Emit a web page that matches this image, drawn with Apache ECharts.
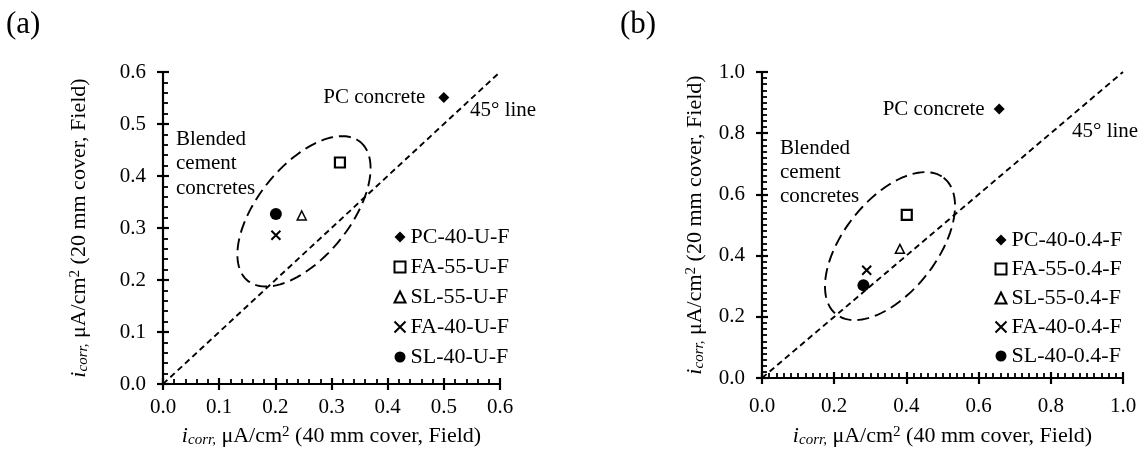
<!DOCTYPE html>
<html><head><meta charset="utf-8">
<script src="https://cdn.jsdelivr.net/npm/echarts@6/dist/echarts.min.js"></script>
<style>html,body{margin:0;padding:0;background:#fff}#c{width:1143px;height:453px}</style>
</head><body><div id="c"></div>
<script>
// ---- data ----
const namesA = ['PC-40-U-F','FA-55-U-F','SL-55-U-F','FA-40-U-F','SL-40-U-F'];
const xA = [0.50, 0.315, 0.247, 0.201, 0.201];
const yA = [0.551, 0.426, 0.324, 0.286, 0.327];
const namesB = ['PC-40-0.4-F','FA-55-0.4-F','SL-55-0.4-F','FA-40-0.4-F','SL-40-0.4-F'];
const xB = [0.657, 0.401, 0.382, 0.290, 0.281];
const yB = [0.879, 0.533, 0.422, 0.352, 0.303];
const ticksA = [0, 0.1, 0.2, 0.3, 0.4, 0.5, 0.6];
const ticksB = [0, 0.2, 0.4, 0.6, 0.8, 1.0];
const lineA = [[0, 0], [0.6, 0.6]];
const lineB = [[0, 0], [1.0, 1.0]];
// ellipse: centre x, centre y, semi-axis vector 1 (dx,dy), semi-axis vector 2 (dx,dy), in data units
const ellipseA = [0.251, 0.332, 0.0993, 0.1342, 0.0648, -0.054];
const ellipseB = [0.3546, 0.431, 0.1487, 0.2231, 0.1017, -0.0932];

const FONT = 'Liberation Serif';
const symbols = ['diamond', 'rect', 'triangle', 'path://M0,0L10,10M10,0L0,10', 'circle'];
const symStyles = [
  {size: 11, style: {color: '#000', opacity: 1}},
  {size: 10, style: {color: '#fff', borderColor: '#000', borderWidth: 2.2, opacity: 1}},
  {size: 9, style: {color: '#fff', borderColor: '#000', borderWidth: 1.5, opacity: 1}},
  {size: 9, style: {color: 'none', borderColor: '#000', borderWidth: 2, opacity: 1}},
  {size: 12, style: {color: '#000', opacity: 1}}
];

const titleRich = {
  it: {fontFamily: FONT, fontSize: 22, fontStyle: 'italic', color: '#000'},
  sub: {fontFamily: FONT, fontSize: 15, fontStyle: 'italic', color: '#000', padding: [9, 0, 0, 0]},
  n: {fontFamily: FONT, fontSize: 22, color: '#000'},
  sup: {fontFamily: FONT, fontSize: 15, color: '#000', padding: [0, 0, 8, 0]}
};
function axisName(cover) { return '{it|i}{sub|corr,}{n| μA/cm}{sup|2}{n| (' + cover + ' mm cover, Field)}'; }

function mainAxis(grid, max, interval, split, isX, labelMargin, nameGap, cover) {
  return {
    type: 'value', gridIndex: grid, min: 0, max: max, interval: interval,
    position: isX ? 'bottom' : 'left',
    axisLine: {show: true, lineStyle: {color: '#000', width: 2.2}},
    axisTick: {show: true, inside: true, length: 6, lineStyle: {color: '#000', width: 2.2}},
    minorTick: {show: true, splitNumber: split, length: 5, lineStyle: {color: '#000', width: 1.8}},
    splitLine: {show: false},
    axisLabel: {show: true, margin: labelMargin, fontFamily: FONT, fontSize: 21, color: '#000',
      formatter: v => v.toFixed(1)},
    name: axisName(cover), nameLocation: 'middle', nameGap: nameGap,
    nameTextStyle: {rich: titleRich}
  };
}
function overlayAxis(grid, max, interval, isX) {
  return {
    type: 'value', gridIndex: grid, min: 0, max: max, interval: interval,
    position: isX ? 'bottom' : 'left',
    axisLine: {show: false}, splitLine: {show: false}, axisLabel: {show: false},
    axisTick: {show: true, inside: false, length: 6, lineStyle: {color: '#000', width: 2.2}}
  };
}

function ellipseSeries(xi, yi, data) {
  return {
    type: 'custom', xAxisIndex: xi, yAxisIndex: yi, data: [data], silent: true, z: 1,
    encode: {x: 0, y: 1},
    renderItem: function (params, api) {
      const cx = api.value(0), cy = api.value(1), ax = api.value(2), ay = api.value(3), bx = api.value(4), by = api.value(5);
      const pts = [];
      for (let k = 0; k <= 120; k++) {
        const t = k / 120 * Math.PI * 2;
        pts.push(api.coord([cx + ax * Math.cos(t) + bx * Math.sin(t), cy + ay * Math.cos(t) + by * Math.sin(t)]));
      }
      return {type: 'polyline', shape: {points: pts}, style: {fill: 'none', stroke: '#000', lineWidth: 1.9, lineDash: [12, 6]}};
    }
  };
}

function scatterSeries(names, xs, ys, xi, yi, labelDist) {
  return names.map((nm, i) => ({
    type: 'scatter', name: nm, xAxisIndex: xi, yAxisIndex: yi, z: 5,
    symbol: symbols[i], symbolSize: symStyles[i].size, itemStyle: symStyles[i].style,
    data: [[xs[i], ys[i]]],
    label: i === 0 ? {show: true, position: 'left', distance: labelDist, formatter: 'PC concrete',
      fontFamily: FONT, fontSize: 21, color: '#000'} : {show: false}
  }));
}

function lineSeries(data, xi, yi) {
  return {type: 'line', data: data, xAxisIndex: xi, yAxisIndex: yi, symbol: 'none', silent: true, z: 2,
    lineStyle: {color: '#000', width: 1.9, type: [6, 4]}};
}

const legendText = {fontFamily: FONT, fontSize: 22, color: '#000'};
const chart = echarts.init(document.getElementById('c'));
chart.setOption({
  animation: false,
  backgroundColor: '#fff',
  grid: [
    {left: 163, top: 72, width: 337, height: 318},
    {left: 762, top: 72, width: 361, height: 308}
  ],
  xAxis: [
    mainAxis(0, 0.6, 0.1, 5, true, 13, 40, 40),
    mainAxis(1, 1.0, 0.2, 10, true, 18, 46, 40),
    overlayAxis(0, 0.6, 0.1, true),
    overlayAxis(1, 1.0, 0.2, true)
  ],
  yAxis: [
    mainAxis(0, 0.6, 0.1, 5, false, 17, 72, 20),
    mainAxis(1, 1.0, 0.2, 10, false, 17, 55, 20),
    overlayAxis(0, 0.6, 0.1, false),
    overlayAxis(1, 1.0, 0.2, false)
  ],
  legend: [
    {data: namesA, orient: 'vertical', left: 392, top: 226, itemGap: 8, itemWidth: 11, itemHeight: 11,
      textStyle: legendText, padding: 0, selectedMode: false},
    {data: namesB, orient: 'vertical', left: 993, top: 229, itemGap: 7, itemWidth: 11, itemHeight: 11,
      textStyle: legendText, padding: 0, selectedMode: false}
  ],
  graphic: [
    {type: 'text', left: 6, top: 9, style: {text: '(a)', font: '31px "Liberation Serif"', fill: '#000'}},
    {type: 'text', left: 620, top: 9, style: {text: '(b)', font: '31px "Liberation Serif"', fill: '#000'}},
    {type: 'text', left: 470, top: 100, style: {text: '45° line', font: '21px "Liberation Serif"', fill: '#000'}},
    {type: 'text', left: 1072, top: 121, style: {text: '45° line', font: '21px "Liberation Serif"', fill: '#000'}},
    {type: 'text', left: 176, top: 127, style: {text: 'Blended\ncement\nconcretes', font: '21px "Liberation Serif"', lineHeight: 24.5, fill: '#000'}},
    {type: 'text', left: 780, top: 136, style: {text: 'Blended\ncement\nconcretes', font: '21px "Liberation Serif"', lineHeight: 24.2, fill: '#000'}}
  ],
  series: [
    lineSeries(lineA, 0, 0),
    lineSeries(lineB, 1, 1),
    ellipseSeries(0, 0, ellipseA),
    ellipseSeries(1, 1, ellipseB)
  ].concat(scatterSeries(namesA, xA, yA, 0, 0, 13), scatterSeries(namesB, xB, yB, 1, 1, 9))
});
</script></body></html>
